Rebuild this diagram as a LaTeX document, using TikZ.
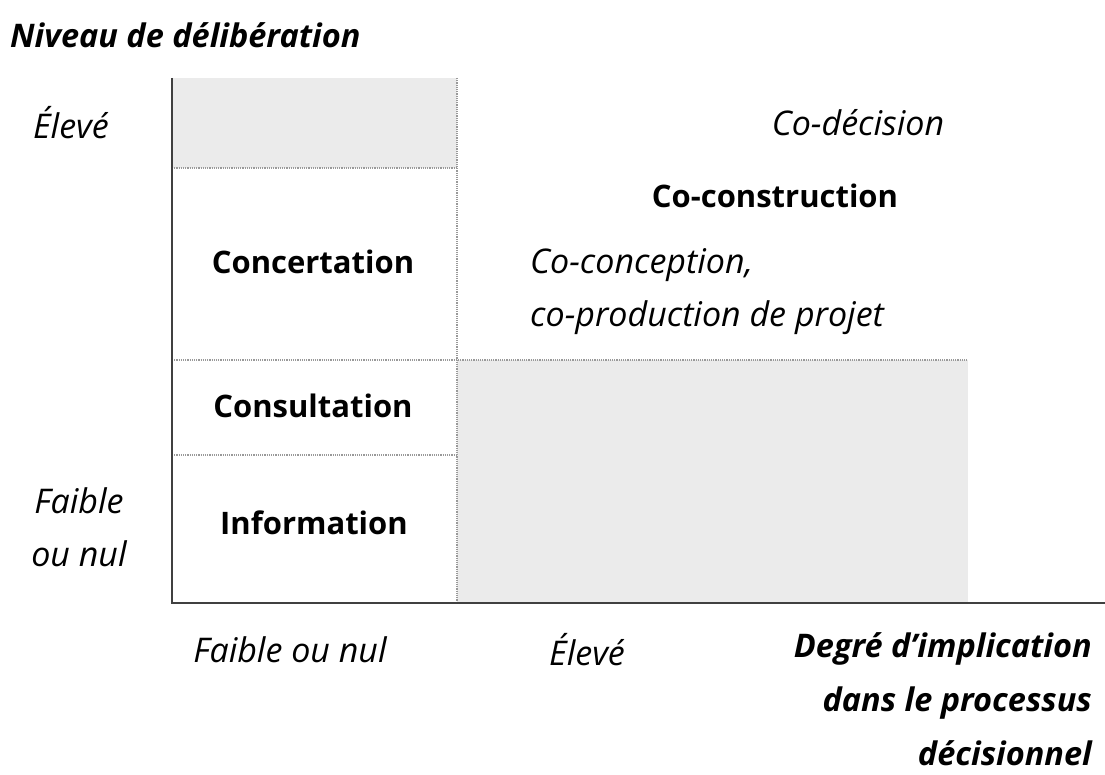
\documentclass[tikz,border=0pt]{standalone}
\usepackage{fontspec}
\setmainfont{Open Sans}
\begin{document}
\begin{tikzpicture}[x=1pt,y=-1pt,
  it/.style={inner sep=0pt,font=\fontsize{34}{53}\selectfont\itshape},
  bf/.style={inner sep=0pt,font=\fontsize{31}{40}\selectfont\bfseries},
  bfit/.style={inner sep=0pt,font=\fontsize{32.5}{54}\selectfont\bfseries\itshape},
  grid/.style={draw=gray!80,line width=1.2pt,densely dotted},
  axis/.style={draw=black!75,line width=2.5pt},
  shade/.style={fill=black!8}]
\useasboundingbox (0,0) rectangle (1105,775);
% shaded areas
\fill[shade] (172,78) rectangle (457,168);
\fill[shade] (457,360) rectangle (968,603);
% grid lines
\coordinate (vt) at (457,78);
\coordinate (vb) at (457,603);
\coordinate (h1a) at (172,168); \coordinate (h1b) at (457,168);
\coordinate (h2a) at (172,360); \coordinate (h2b) at (968,360);
\coordinate (h3a) at (172,455); \coordinate (h3b) at (457,455);
\draw[grid] (vt) -- (vb);
\draw[grid] (h1a) -- (h1b);
\draw[grid] (h2a) -- (h2b);
\draw[grid] (h3a) -- (h3b);
% axes
\coordinate (ytop) at (172,78);
\coordinate (orig) at (172,603);
\coordinate (xend) at (1105,603);
\draw[axis] (ytop) -- (orig) -- (xend);
% labels
\node[bfit,anchor=west] (ytitle) at (10,35) {Niveau de délibération};
\node[it] (yhigh) at (71,123) {Élevé};
\node[it,align=center] (ylow) at (79,527) {Faible\\ou nul};
\node[bf] (info) at (314,523) {Information};
\node[bf] (consult) at (313,406) {Consultation};
\node[bf] (concert) at (313,262) {Concertation};
\node[it] (codec) at (858,123) {Co-décision};
\node[bf] (cocons) at (775,196) {Co-construction};
\node[it,align=left,anchor=west] (coconc) at (530,292) {Co-conception,\\co-production de projet};
\node[it] (xlow) at (290,650) {Faible ou nul};
\node[it] (xhigh) at (587,650) {Élevé};
\node[bfit,align=right,anchor=east] (xtitle) at (1092,699) {Degré d’implication\\dans le processus\\décisionnel};
\end{tikzpicture}
\end{document}
